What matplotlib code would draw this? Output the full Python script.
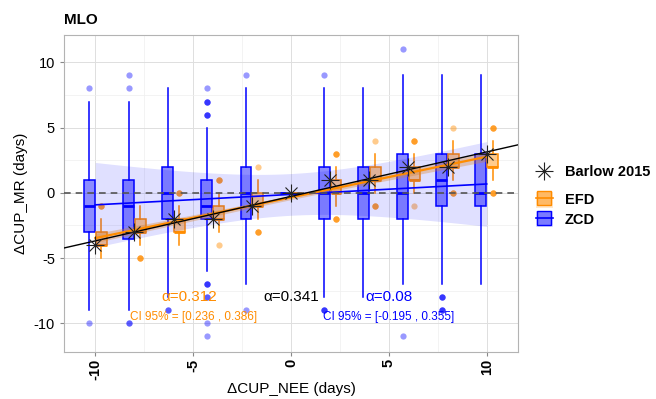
import numpy as np
import matplotlib
matplotlib.use('Agg')
import matplotlib.pyplot as plt
from matplotlib.patches import Patch
from matplotlib.lines import Line2D
from matplotlib.legend_handler import HandlerTuple

plt.rcParams['font.family'] = ['Liberation Sans', 'DejaVu Sans']

# x positions (delta CUP_NEE) and Barlow 2015 reference values
positions = [-10, -8, -6, -4, -2, 0, 2, 4, 6, 8, 10]
barlow = [-4, -3, -2, -2, -1, 0, 1, 1, 2, 2, 3]

# ZCD box stats
zcd_q1 = [-3, -3.5, -2, -2, -2, 0, -2, -2, -2, -1, -1]
zcd_med = [-1, -1, 0, -1, 0, 0, 0, 0, 0, 1, 0]
zcd_q3 = [1, 1, 2, 1, 2, 0, 2, 2, 3, 3, 3]
zcd_lo = [-9, -9, -8, -6, -7, 0, -8, -8, -7, -7, -7]
zcd_hi = [7, 7, 8, 5, 8, 0, 8, 8, 9, 9, 9]
zcd_out = [[8, -10], [9, 8, -10, -10], [-9, -9], [8, 7, 7, 7, 6, 6, 6, -7, -7, -7, -8, -8, -10, -11],
           [9, -9], [], [9, -9, -9, -9], [], [11, -11], [-8, -8, -8, -9, -9, -9], []]

# EFD box stats
efd_q1 = [-4, -3, -3, -2, -1, 0, 0, 1, 1, 2, 2]
efd_med = [-4, -3, -3, -2, -1, 0, 0, 1, 1, 2, 2]
efd_q3 = [-3, -2, -2, -1, 0, 0, 1, 2, 2, 3, 3]
efd_lo = [-5, -4, -4, -3, -2, 0, -1, 0, 0, 1, 1]
efd_hi = [-2, -1, -1, 0, 1, 0, 2, 3, 3, 4, 4]
efd_out = [[-1, -1, -1], [-5, -5, -5], [0, 0, 0], [1, 1, 1, -4], [2, -3, -3, -3], [],
           [3, 3, 3, -2, -2, -2], [4, -1, -1, -1], [4, 4, 4, -1], [5, 0, 0, 0], [5, 5, 5, 0, 0, 0]]

# regression results: slope, intercept, band half-width at x=0 and at |x|=10
efd_slope, efd_icpt, efd_hw0, efd_hw10 = 0.312, -0.35, 0.17, 0.35
zcd_slope, zcd_icpt, zcd_hw0, zcd_hw10 = 0.08, -0.12, 1.6, 3.25

orange = '#FF8C00'
blue = '#0000FF'


def stats(q1, med, q3, lo, hi, out):
    return [dict(q1=a, med=b, q3=c, whislo=d, whishi=e, fliers=f)
            for a, b, c, d, e, f in zip(q1, med, q3, lo, hi, out)]


def halfwidth(x, h0, h10):
    return np.sqrt(h0 ** 2 + (h10 ** 2 - h0 ** 2) * (x / 10) ** 2)


fig = plt.figure(figsize=(6.56, 3.99), dpi=100)
ax = fig.add_axes([64/656, 47/399, 454/656, 317/399])

pos = np.array(positions, dtype=float)

ax.bxp(stats(zcd_q1, zcd_med, zcd_q3, zcd_lo, zcd_hi, zcd_out), positions=pos - 0.3,
       widths=0.55, patch_artist=True, showcaps=False, manage_ticks=False,
       boxprops=dict(facecolor=(0, 0, 1, 0.45), edgecolor=blue, linewidth=1.1),
       whiskerprops=dict(color=blue, linewidth=1.1),
       medianprops=dict(color=blue, linewidth=2),
       flierprops=dict(marker='o', markerfacecolor=blue, markeredgecolor='none',
                       alpha=0.4, markersize=4.5), zorder=2)

ax.bxp(stats(efd_q1, efd_med, efd_q3, efd_lo, efd_hi, efd_out), positions=pos + 0.3,
       widths=0.55, patch_artist=True, showcaps=False, manage_ticks=False,
       boxprops=dict(facecolor=(1, 0.55, 0, 0.45), edgecolor=orange, linewidth=1.1),
       whiskerprops=dict(color=orange, linewidth=1.1),
       medianprops=dict(color=orange, linewidth=2),
       flierprops=dict(marker='o', markerfacecolor=orange, markeredgecolor='none',
                       alpha=0.45, markersize=4.5), zorder=2)

# smooth lines with confidence bands
xs = np.linspace(-10, 10, 100)
zy = zcd_icpt + zcd_slope * xs
zh = halfwidth(xs, zcd_hw0, zcd_hw10)
ax.fill_between(xs, zy - zh, zy + zh, color=blue, alpha=0.12, lw=0, zorder=3)
ey = efd_icpt + efd_slope * xs
eh = halfwidth(xs, efd_hw0, efd_hw10)
ax.fill_between(xs, ey - eh, ey + eh, color='#D9822B', alpha=0.35, lw=0, zorder=3)
ax.plot(xs, zy, color=blue, lw=1.2, zorder=4)
ax.plot(xs, ey, color=orange, lw=1.6, zorder=4)

# Barlow fit
b_slope, b_icpt = np.polyfit(pos, barlow, 1)
xf = np.array([-11.6, 11.6])
ax.plot(xf, b_icpt + b_slope * xf, color='black', lw=1, zorder=5)
ax.plot(pos, barlow, ls='none', marker='+', ms=13, mew=0.8, color='#222222', zorder=6)
ax.plot(pos, barlow, ls='none', marker='x', ms=9, mew=0.8, color='#222222', zorder=6)

ax.axhline(0, color='#555555', lw=1.2, ls=(0, (4, 3)), zorder=4)

# annotations
ax.text(-5.2, -8, 'α=0.312', color=orange, fontsize=11, ha='center', va='center')
ax.text(-5.0, -9.5, 'CI 95% = [0.236 , 0.386]', color=orange, fontsize=8.5, ha='center', va='center')
ax.text(0, -8, 'α=0.341', color='black', fontsize=11, ha='center', va='center')
ax.text(5, -8, 'α=0.08', color=blue, fontsize=11, ha='center', va='center')
ax.text(5, -9.5, 'CI 95% = [-0.195 , 0.355]', color=blue, fontsize=8.5, ha='center', va='center')

ax.set_xlim(-11.6, 11.6)
ax.set_ylim(-12.2, 12.1)
ax.set_xticks([-10, -5, 0, 5, 10])
ax.set_xticklabels(['-10', '-5', '0', '5', '10'], rotation=90, fontweight='bold', fontsize=10.5)
ax.set_yticks([-10, -5, 0, 5, 10])
ax.set_yticklabels(['-10', '-5', '0', '5', '10'], fontsize=10.5)
ax.set_xticks([-7.5, -2.5, 2.5, 7.5], minor=True)
ax.set_yticks([-7.5, -2.5, 2.5, 7.5], minor=True)
ax.tick_params(which='minor', length=0)
ax.tick_params(which='major', length=3, color='#888888')
ax.tick_params(axis='x', which='major', pad=2)
ax.grid(which='major', color='#DEDEDE', lw=0.7)
ax.grid(which='minor', color='#EFEFEF', lw=0.5)
ax.set_axisbelow(True)
for s in ax.spines.values():
    s.set_color('#B3B3B3')

ax.set_xlabel('ΔCUP_NEE (days)', fontsize=11, labelpad=1)
ax.set_ylabel('ΔCUP_MR (days)', fontsize=11)
ax.set_title('MLO', fontsize=11, fontweight='bold', loc='left', x=0.0, pad=8)

# legends
star = (Line2D([], [], ls='none', marker='+', ms=13, mew=0.8, color='#222222'),
        Line2D([], [], ls='none', marker='x', ms=9, mew=0.8, color='#222222'))
efd_h = (Patch(facecolor=orange, alpha=0.2, edgecolor='none'),
         Line2D([], [], ls='none', marker='s', ms=10, mfc=(1, 0.55, 0, 0.5), mec=orange, mew=1),
         Line2D([], [], color=orange, lw=1.2))
zcd_h = (Patch(facecolor=blue, alpha=0.12, edgecolor='none'),
         Line2D([], [], ls='none', marker='s', ms=10, mfc=(0, 0, 1, 0.45), mec=blue, mew=1),
         Line2D([], [], color=blue, lw=1.2))
leg1 = ax.legend([star], ['Barlow 2015'], loc='center left', bbox_to_anchor=(1.01, 0.568),
                 frameon=False, prop=dict(weight='bold', size=10.5),
                 handler_map={tuple: HandlerTuple(ndivide=1)}, handlelength=1.2)
ax.add_artist(leg1)
ax.legend([efd_h, zcd_h], ['EFD', 'ZCD'], loc='center left', bbox_to_anchor=(1.01, 0.45),
          frameon=False, prop=dict(weight='bold', size=10.5), labelspacing=0.25,
          handler_map={tuple: HandlerTuple(ndivide=1)}, handlelength=1.2, handleheight=1.3)

fig.savefig('out.png', dpi=100)
